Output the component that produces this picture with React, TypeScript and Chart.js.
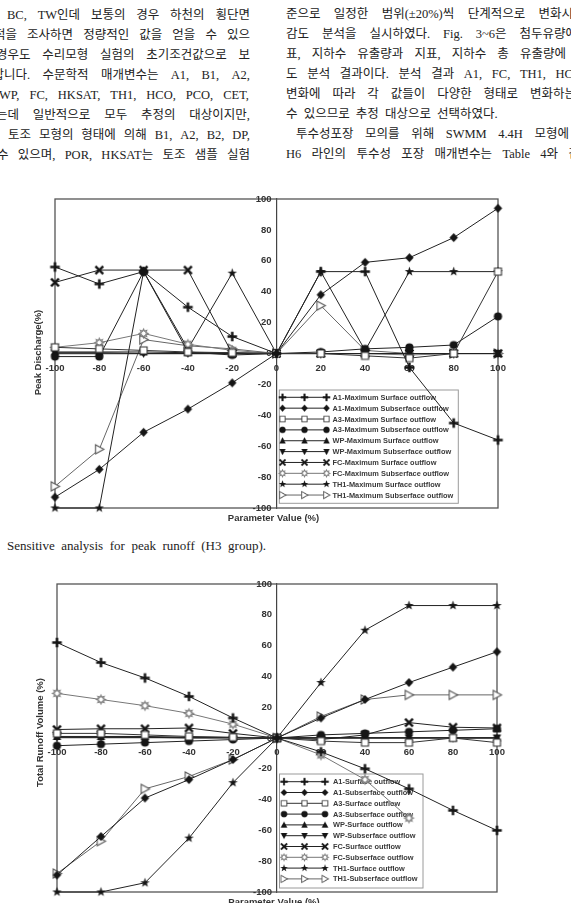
import React, { useEffect, useRef } from 'react';
import { Chart, registerables } from 'chart.js';

Chart.register(...registerables);

// ---------------- data ----------------
const parameterValues = [-100, -80, -60, -40, -20, 0, 20, 40, 60, 80, 100];

// Peak discharge (H3 group)
const peakLabels = [
  'A1-Maximum Surface outflow',
  'A1-Maximum Subserface outflow',
  'A3-Maximum Surface outflow',
  'A3-Maximum Subserface outflow',
  'WP-Maximum Surface outflow',
  'WP-Maximum Subserface outflow',
  'FC-Maximum Surface outflow',
  'FC-Maximum Subserface outflow',
  'TH1-Maximum Surface outflow',
  'TH1-Maximum Subserface outflow',
];
const peakA1Surface = [56, 45, 53, 30, 11, 0, 53, 53, -9, -45, -56];
const peakA1Subsurface = [-93, -75, -51, -36, -19, 0, 38, 59, 62, 75, 94];
const peakA3Surface = [4, 3, 2, 1, 0.5, 0, 0, -1.5, -3, 0, 53];
const peakA3Subsurface = [-2, -2, 53, 1, -1, 0, 1, 3, 4, 5.5, 24];
const peakWPSurface = [1, 1, 1, 0.5, 0.5, 0, 0, 0, 0, 0, 0];
const peakWPSubsurface = [0.5, 0.5, 0, 0, 0, 0, 0, 0, 0, 0, 0];
const peakFCSurface = [46, 54, 54, 54, 0, 0, 0, 0, 0, 0, 0];
const peakFCSubsurface = [4, 7, 13, 6, 2, 0, 0, 0, -1, 0, 0];
const peakTH1Surface = [-100, -100, 53, 3, 52, 0, 53, 2, 53, 53, 53];
const peakTH1Subsurface = [-86, -62, 9, 5, 3, 0, 31, 2, 0, 0, 0];

// Total runoff volume
const volumeLabels = [
  'A1-Surface outflow',
  'A1-Subserface outflow',
  'A3-Surface outflow',
  'A3-Subserface outflow',
  'WP-Surface outflow',
  'WP-Subserface outflow',
  'FC-Surface outflow',
  'FC-Subserface outflow',
  'TH1-Surface outflow',
  'TH1-Subserface outflow',
];
const volA1Surface = [62, 49, 39, 27, 13, 0, -9, -20, -33, -47, -60];
const volA1Subsurface = [-89, -64, -39, -27, -14, 0, 13, 25, 36, 46, 56];
const volA3Surface = [3, 3, 2, 1, 0.5, 0, -2, -3, -3, 0, -3];
const volA3Subsurface = [-5, -4, -3, -2, -1, 0, 2, 3, 4, 5, 6];
const volWPSurface = [1, 1, 1, 0.5, 0.3, 0, 0, 0, 0, 0, 0];
const volWPSubsurface = [0.5, 0.5, 0.5, 0, 0, 0, 0, 0, 0, 0, 0];
const volFCSurface = [5.5, 6, 6, 6.5, 3, 0, -1, 2, 10, 7, 6.5];
const volFCSubsurface = [29, 25, 21, 16, 9, 0, -11, -27, -52, null, null];
const volTH1Surface = [-100, -100, -94, -65, -29, 0, 36, 70, 86, 86, 86];
const volTH1Subsurface = [-88, -67, -33, -25, -14, 0, 14, 25, 28, 28, 28];

const yTitlePeak = 'Peak Discharge(%)';
const yTitleVolume = 'Total Runoff Volume (%)';
const xTitle = 'Parameter Value (%)';
const captionText = 'Sensitive analysis for peak runoff (H3 group).';

const leftColumn = [
  'BC, TW인데 보통의 경우 하천의 횡단면',
  '적을 조사하면 정량적인 값을 얻을 수 있으',
  '경우도 수리모형 실험의 초기조건값으로 보',
  '합니다. 수문학적 매개변수는 A1, B1, A2,',
  'WP, FC, HKSAT, TH1, HCO, PCO, CET,',
  '는데 일반적으로 모두 추정의 대상이지만,',
  '토조 모형의 형태에 의해 B1, A2, B2, DP,',
  '수 있으며, POR, HKSAT는 토조 샘플 실험',
];
const rightColumn = [
  '준으로 일정한 범위(±20%)씩 단계적으로 변화시',
  '감도 분석을 실시하였다. Fig. 3~6은 첨두유량에',
  '표, 지하수 유출량과 지표, 지하수 총 유출량에',
  '도 분석 결과이다. 분석 결과 A1, FC, TH1, HC',
  '변화에 따라 각 값들이 다양한 형태로 변화하는',
  '수 있으므로 추정 대상으로 선택하였다.',
  '투수성포장 모의를 위해 SWMM 4.4H 모형에',
  'H6 라인의 투수성 포장 매개변수는 Table 4와 같',
];

// ---------------- styling ----------------
const markerKinds = ['plus', 'diamond', 'square', 'circle', 'triUp', 'triDown', 'cross', 'gear', 'star', 'triRight'];
const lineColors = ['#222', '#222', '#333', '#222', '#222', '#222', '#222', '#777', '#222', '#666'];

function makeMarker(kind: string): HTMLCanvasElement {
  const size = 13;
  const c = document.createElement('canvas');
  c.width = size;
  c.height = size;
  const g = c.getContext('2d')!;
  g.translate(size / 2, size / 2);
  const dark = '#151515';
  g.fillStyle = dark;
  g.strokeStyle = dark;
  switch (kind) {
    case 'plus':
      g.lineWidth = 2.5;
      g.beginPath();
      g.moveTo(-4.8, 0); g.lineTo(4.8, 0);
      g.moveTo(0, -4.8); g.lineTo(0, 4.8);
      g.stroke();
      break;
    case 'diamond':
      g.beginPath();
      g.moveTo(0, -4.5); g.lineTo(4.2, 0); g.lineTo(0, 4.5); g.lineTo(-4.2, 0);
      g.closePath(); g.fill();
      break;
    case 'square':
      g.fillStyle = '#fff'; g.strokeStyle = '#333'; g.lineWidth = 1.1;
      g.beginPath(); g.rect(-3.5, -3.5, 7, 7); g.fill(); g.stroke();
      break;
    case 'circle':
      g.beginPath(); g.arc(0, 0, 4.1, 0, Math.PI * 2); g.fill();
      break;
    case 'triUp':
      g.beginPath(); g.moveTo(0, -4.4); g.lineTo(4.2, 3.4); g.lineTo(-4.2, 3.4); g.closePath(); g.fill();
      break;
    case 'triDown':
      g.beginPath(); g.moveTo(0, 4.4); g.lineTo(4.2, -3.4); g.lineTo(-4.2, -3.4); g.closePath(); g.fill();
      break;
    case 'cross':
      g.lineWidth = 2.4;
      g.beginPath();
      g.moveTo(-3.9, -3.9); g.lineTo(3.9, 3.9);
      g.moveTo(3.9, -3.9); g.lineTo(-3.9, 3.9);
      g.stroke();
      break;
    case 'gear': {
      g.fillStyle = '#fff'; g.strokeStyle = '#777'; g.lineWidth = 1.1;
      g.beginPath();
      for (let k = 0; k < 16; k++) {
        const r = k % 2 ? 2.4 : 4.4;
        const a = (k * Math.PI) / 8 - Math.PI / 2;
        const px = r * Math.cos(a), py = r * Math.sin(a);
        if (k === 0) g.moveTo(px, py); else g.lineTo(px, py);
      }
      g.closePath(); g.fill(); g.stroke();
      break;
    }
    case 'star': {
      g.beginPath();
      for (let k = 0; k < 10; k++) {
        const r = k % 2 ? 2.0 : 5.0;
        const a = (k * Math.PI) / 5 - Math.PI / 2;
        const px = r * Math.cos(a), py = r * Math.sin(a);
        if (k === 0) g.moveTo(px, py); else g.lineTo(px, py);
      }
      g.closePath(); g.fill();
      break;
    }
    case 'triRight':
      g.fillStyle = '#fff'; g.strokeStyle = '#555'; g.lineWidth = 1.1;
      g.beginPath(); g.moveTo(-3.8, -4.6); g.lineTo(4.6, 0); g.lineTo(-3.8, 4.6); g.closePath(); g.fill(); g.stroke();
      break;
  }
  return c;
}

const TICK_FONT = 'bold 9.5px "Liberation Sans", Arial, sans-serif';
const LEGEND_FONT = 'bold 7.4px "Liberation Sans", Arial, sans-serif';

const paperDecor = {
  id: 'paperDecor',
  beforeDatasetsDraw(chart: any, _args: any, opts: any) {
    const { ctx, chartArea: ca, scales } = chart;
    const xs = scales.x;
    const ys = scales.y;
    const x0 = xs.getPixelForValue(0);
    const y0 = ys.getPixelForValue(0);
    ctx.save();
    // frame
    ctx.strokeStyle = '#555';
    ctx.lineWidth = 1.3;
    ctx.strokeRect(ca.left, ca.top, ca.right - ca.left, ca.bottom - ca.top);
    // tick labels
    ctx.font = TICK_FONT;
    ctx.fillStyle = '#333';
    ctx.textAlign = 'right';
    ctx.textBaseline = 'middle';
    ys.ticks.forEach((t: any) => ctx.fillText(String(t.value), x0 - 5, ys.getPixelForValue(t.value)));
    ctx.textAlign = 'center';
    xs.ticks.forEach((t: any) => ctx.fillText(String(t.value), xs.getPixelForValue(t.value), y0 + 14.5));
    // axis titles
    ctx.fillText(opts.xTitle, x0 - 3, ca.bottom + 10);
    ctx.save();
    ctx.translate(ca.left - 16.5, (ca.top + ca.bottom) / 2 + opts.yTitleDy);
    ctx.rotate(-Math.PI / 2);
    ctx.fillText(opts.yTitle, 0, 0);
    ctx.restore();
    // legend box
    const L = opts.legend;
    ctx.strokeStyle = '#9a9a9a';
    ctx.lineWidth = 1;
    ctx.strokeRect(ca.left + L.x, ca.top + L.y, L.w, L.h);
    ctx.font = LEGEND_FONT;
    ctx.textAlign = 'left';
    chart.data.datasets.forEach((ds: any, i: number) => {
      const cy = ca.top + L.rowTop + i * L.rowGap;
      const sx = ca.left + L.sampleX;
      ctx.strokeStyle = ds.borderColor;
      ctx.lineWidth = 1;
      ctx.beginPath();
      ctx.moveTo(sx, cy);
      ctx.lineTo(sx + L.sampleW, cy);
      ctx.stroke();
      const img = ds.pointStyle as HTMLCanvasElement;
      const s = 0.78;
      [0, 0.5, 1].forEach((f) => {
        const mx = sx + f * L.sampleW;
        ctx.drawImage(img, mx - (img.width * s) / 2, cy - (img.height * s) / 2, img.width * s, img.height * s);
      });
      ctx.fillStyle = '#3a3a3a';
      ctx.fillText(ds.label, ca.left + L.textX, cy + 0.5);
    });
    ctx.restore();
  },
};

type Panel = {
  series: (number | null)[][];
  labels: string[];
  yTitle: string;
  yTitleDy: number;
  padding: { left: number; top: number; right: number; bottom: number };
  legend: any;
};

function buildConfig(p: Panel): any {
  const datasets = p.series.map((vals, i) => ({
    label: p.labels[i],
    data: parameterValues.map((x, k) => ({ x, y: vals[k] })),
    borderColor: lineColors[i],
    borderWidth: 1,
    pointStyle: makeMarker(markerKinds[i]),
    pointRadius: 4,
    tension: 0,
    clip: false,
    spanGaps: false,
  }));
  return {
    type: 'line',
    data: { datasets },
    plugins: [paperDecor],
    options: {
      animation: false,
      responsive: false,
      devicePixelRatio: 1,
      layout: { padding: p.padding },
      events: [],
      plugins: {
        legend: { display: false },
        tooltip: { enabled: false },
        paperDecor: { xTitle, yTitle: p.yTitle, yTitleDy: p.yTitleDy, legend: p.legend },
      },
      scales: {
        x: {
          type: 'linear',
          min: -100,
          max: 100,
          position: { y: 0 },
          ticks: { stepSize: 20, display: false },
          grid: { display: false, drawTicks: false },
          border: { display: true, color: '#444', width: 1.2 },
          afterFit: (s: any) => { s.height = 0; },
        },
        y: {
          type: 'linear',
          min: -100,
          max: 100,
          position: { x: 0 },
          ticks: { stepSize: 20, display: false },
          grid: { display: false, drawTicks: false },
          border: { display: true, color: '#444', width: 1.2 },
          afterFit: (s: any) => { s.width = 0; },
        },
      },
    },
  };
}

function ChartPanel({ panel, top, height }: { panel: Panel; top: number; height: number }) {
  const ref = useRef<HTMLCanvasElement>(null);
  useEffect(() => {
    const chart = new Chart(ref.current!, buildConfig(panel));
    return () => chart.destroy();
  }, []);
  return (
    <canvas
      ref={ref}
      width={571}
      height={height}
      style={{ position: 'absolute', left: 0, top, width: 571, height }}
    />
  );
}

const peakPanel: Panel = {
  series: [peakA1Surface, peakA1Subsurface, peakA3Surface, peakA3Subsurface, peakWPSurface, peakWPSubsurface, peakFCSurface, peakFCSubsurface, peakTH1Surface, peakTH1Subsurface],
  labels: peakLabels,
  yTitle: yTitlePeak,
  yTitleDy: -1,
  padding: { left: 55, top: 14, right: 73, bottom: 22 },
  legend: { x: 224.3, y: 191, w: 179, h: 113.3, rowTop: 198.3, rowGap: 10.86, sampleX: 227.5, sampleW: 44, textX: 277.5 },
};

const volumePanel: Panel = {
  series: [volA1Surface, volA1Subsurface, volA3Surface, volA3Subsurface, volWPSurface, volWPSubsurface, volFCSurface, volFCSubsurface, volTH1Surface, volTH1Subsurface],
  labels: volumeLabels,
  yTitle: yTitleVolume,
  yTitleDy: -5.5,
  padding: { left: 57, top: 14, right: 74, bottom: 11 },
  legend: { x: 222.5, y: 190, w: 143.5, h: 114, rowTop: 197.7, rowGap: 10.8, sampleX: 227, sampleW: 41, textX: 276 },
};

const TEXT_FONT = '"Liberation Serif", "Noto Sans CJK KR", serif';

function TextLine({ x, y, w, text, size = 12.5 }: { x: number; y: number; w?: number; text: string; size?: number }) {
  const base: React.CSSProperties = {
    position: 'absolute',
    left: x,
    top: y - 9,
    height: 18,
    lineHeight: '18px',
    fontSize: size,
    fontFamily: TEXT_FONT,
    color: '#222',
    whiteSpace: 'pre',
  };
  if (w === undefined) {
    return <div style={{ ...base, wordSpacing: 3 }}>{text}</div>;
  }
  const words = text.split(' ');
  return (
    <div style={{ ...base, width: w, display: 'flex', justifyContent: 'space-between', alignItems: 'center' }}>
      {words.map((wd, i) => (
        <span key={i}>{wd}</span>
      ))}
    </div>
  );
}

const lineY = [15, 35, 55, 75, 95, 115, 135, 155];
const leftX = [7, -6, -4, -7.5, -1, -4, 8, -3];
const leftEnd = [250, 250, 250, 250, 249, 250, 250, 250];
const rightX = [286, 286, 286, 286, 286, 286, 296, 286];
const rightEnd: (number | undefined)[] = [573, 577, 566, 573, 576, undefined, 569, 580];

export default function App() {
  return (
    <div
      style={{
        position: 'fixed',
        left: 0,
        top: 0,
        width: 571,
        height: 903,
        overflow: 'hidden',
        background: '#fff',
      }}
    >
      {leftColumn.map((t, i) => (
        <TextLine key={'l' + i} x={leftX[i]} y={lineY[i]} w={leftEnd[i] - leftX[i]} text={t} />
      ))}
      {rightColumn.map((t, i) => (
        <TextLine
          key={'r' + i}
          x={rightX[i]}
          y={lineY[i] - 1}
          w={rightEnd[i] === undefined ? undefined : (rightEnd[i] as number) - rightX[i]}
          text={t}
        />
      ))}
      <ChartPanel panel={peakPanel} top={185} height={345} />
      <TextLine x={7} y={546} w={259} text={captionText} size={13} />
      <ChartPanel panel={volumePanel} top={570} height={333} />
    </div>
  );
}
